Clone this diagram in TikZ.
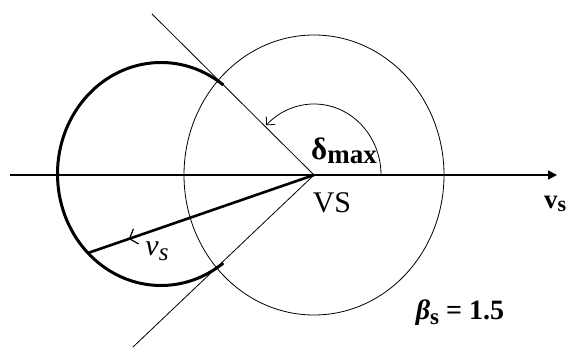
\documentclass[tikz,border=0pt]{standalone}
\usepackage{fontspec}
\setmainfont{Liberation Serif}
\usetikzlibrary{arrows.meta,decorations.markings}
\begin{document}
\begin{tikzpicture}[x=1pt,y=1pt,
  thinline/.style={line width=0.8pt},
  thickline/.style={line width=3pt},
  lbl/.style={inner sep=0pt,font=\fontsize{27}{30}\selectfont},
  midbarb/.style={decoration={markings,mark=at position #1 with {\arrow{Straight Barb[length=7pt,width=16pt,line width=1.2pt]}}},postaction=decorate}
]
\useasboundingbox (0,0) rectangle (567,348);
% points
\coordinate (VS) at (314,173);
\coordinate (L) at (161,174);
\coordinate (axL) at (10,173);
\coordinate (axR) at (557,173);
\coordinate (up) at (152,334);
\coordinate (lo) at (133,1);
\coordinate (P) at (88,95);
% right circle
\draw[thinline] (VS) ellipse [x radius=130, y radius=140];
% thick arc of left circle
\draw[thickline] ([shift={(53:103.5 and 111.5)}]L) arc [start angle=53, end angle=307, x radius=103.5, y radius=111.5];
% tangent lines
\draw[thinline] (VS) -- (up);
\draw[thinline] (VS) -- (lo);
% axis
\draw[line width=1.4pt,-{Triangle[length=9pt,width=9pt]}] (axL) -- (axR);
% delta arc
\draw[thinline,-{Straight Barb[length=6pt,width=12pt]}] ([shift={(0:67 and 71)}]VS) arc [start angle=0, end angle=135.5, x radius=67, y radius=71];
% v_s vector
\draw[thickline,line width=2.6pt,midbarb=0.82] (VS) -- (P);
% labels
\node[lbl,font=\fontsize{30}{32}\selectfont] (vsl) at (332,145) {VS};
\node[lbl] (dl) at (344,197) {\bfseries{\fontsize{31}{32}\selectfont δ}\raisebox{-0.3ex}{max}};
\node[lbl,font=\fontsize{30}{32}\selectfont] (vsi) at (157,97) {\itshape v\raisebox{-0.35ex}{\fontsize{25}{26}\selectfont s}};
\node[lbl,anchor=west] (vsr) at (544,144) {\bfseries v\raisebox{-0.3ex}{\fontsize{22}{24}\selectfont s}};
\node[lbl,font=\fontsize{28}{30}\selectfont] (beta) at (460,35) {\bfseries\itshape β\raisebox{-0.35ex}{\upshape\fontsize{23}{24}\selectfont s}\upshape{} = 1.5};
\end{tikzpicture}
\end{document}
